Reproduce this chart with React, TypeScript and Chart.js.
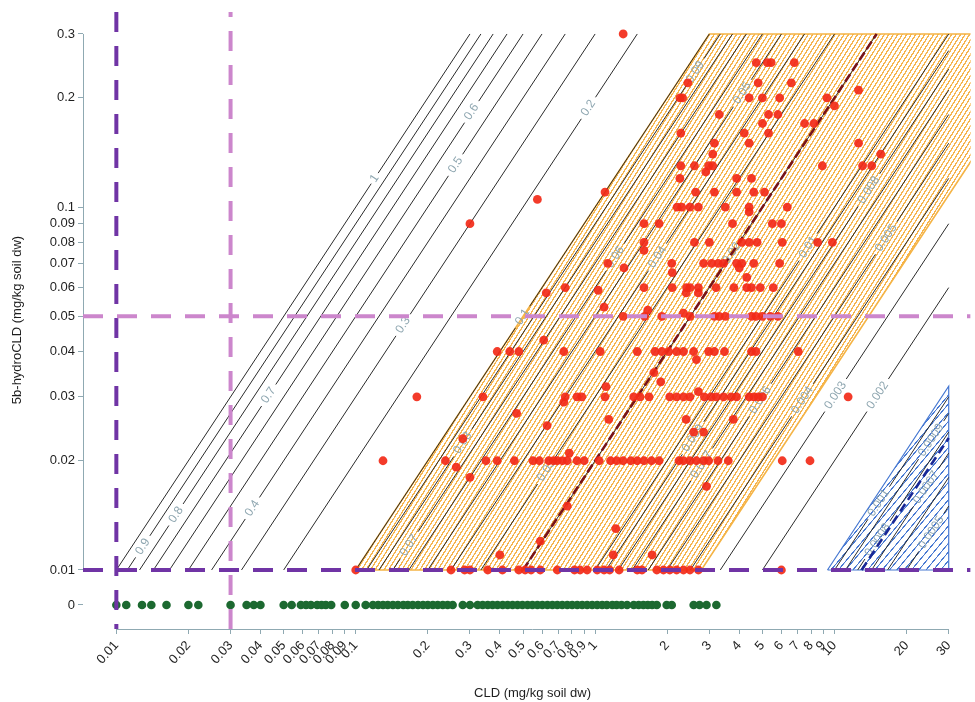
import React, { useEffect, useRef } from "react";
import { Chart, registerables } from "chart.js";

Chart.register(...registerables);

const FONT = "'Liberation Sans', Arial, Helvetica, sans-serif";

// ---------- axis ticks ----------
const X_TICKS = [0.01, 0.02, 0.03, 0.04, 0.05, 0.06, 0.07, 0.08, 0.09, 0.1, 0.2, 0.3, 0.4, 0.5, 0.6, 0.7, 0.8, 0.9, 1, 2, 3, 4, 5, 6, 7, 8, 9, 10, 20, 30];
const X_TICK_LABELS = ["0.01", "0.02", "0.03", "0.04", "0.05", "0.06", "0.07", "0.08", "0.09", "0.1", "0.2", "0.3", "0.4", "0.5", "0.6", "0.7", "0.8", "0.9", "1", "2", "3", "4", "5", "6", "7", "8", "9", "10", "20", "30"];
const Y_TICKS = [0.01, 0.02, 0.03, 0.04, 0.05, 0.06, 0.07, 0.08, 0.09, 0.1, 0.2, 0.3];
const Y_TICK_LABELS = ["0.01", "0.02", "0.03", "0.04", "0.05", "0.06", "0.07", "0.08", "0.09", "0.1", "0.2", "0.3"];
const ZERO_LABEL = "0";
const X_TITLE = "CLD (mg/kg soil dw)";
const Y_TITLE = "5b-hydroCLD (mg/kg soil dw)";

// ---------- data window ----------
const X_DATA_MIN = 0.01;
const X_DATA_MAX = 30;
const Y_DATA_MIN = 0.01;
const Y_DATA_MAX = 0.3;

// ---------- ratio contours (5b-hydroCLD / CLD) ----------
const CONTOUR_LEVELS = [
  1, 0.9, 0.8, 0.7, 0.6, 0.5, 0.4, 0.3, 0.2, 0.1,
  0.09, 0.08, 0.07, 0.06, 0.05, 0.04, 0.03, 0.02, 0.01,
  0.009, 0.008, 0.007, 0.006, 0.005, 0.004, 0.003, 0.002, 0.001,
  0.0009, 0.0008, 0.0007, 0.0006, 0.0005,
];
// [level, text, y-value where the label sits]
const CONTOUR_LABELS: [number, string, number][] = [
  [1, "1", 0.12], [0.9, "0.9", 0.0116], [0.8, "0.8", 0.0142], [0.7, "0.7", 0.0303],
  [0.6, "0.6", 0.183], [0.5, "0.5", 0.1306], [0.4, "0.4", 0.0148], [0.3, "0.3", 0.0473],
  [0.2, "0.2", 0.1875], [0.1, "0.1", 0.0498], [0.09, "0.09", 0.2355], [0.08, "0.08", 0.0224],
  [0.07, "0.07", 0.0117], [0.06, "0.06", 0.0728], [0.05, "0.05", 0.206], [0.04, "0.04", 0.0728],
  [0.03, "0.03", 0.0188], [0.02, "0.02", 0.0746], [0.01, "0.01", 0.0776], [0.009, "0.009", 0.0231],
  [0.008, "0.008", 0.1114], [0.007, "0.007", 0.0195], [0.006, "0.006", 0.0294], [0.005, "0.005", 0.0822],
  [0.004, "0.004", 0.0294], [0.003, "0.003", 0.0303], [0.002, "0.002", 0.0303], [0.001, "0.001", 0.0153],
  [0.0009, "0.0009", 0.0228], [0.0008, "0.0008", 0.0121], [0.0007, "0.0007", 0.0169], [0.0005, "0.0005", 0.0127],
];

// ---------- shaded zones & reference lines ----------
const ORANGE_RATIO_HIGH = 0.1;
const ORANGE_RATIO_LOW = 0.0036;
const BLUE_RATIO = 0.00107;
const RED_DASH_RATIO = 0.02;
const BLUE_DASH_RATIO = 0.00077;
const REF_X_DARK = 0.01;
const REF_X_LIGHT = 0.03;
const REF_Y_DARK = 0.01;
const REF_Y_LIGHT = 0.05;

// ---------- observations ----------
// [5b-hydroCLD value, CLD values]
const RED_ROWS: [number, number[]][] = [
  [0.3, [1.31]],
  [0.25, [4.71, 5.24, 5.44, 6.79]],
  [0.22, [2.44, 4.8, 6.6]],
  [0.21, [12.6]],
  [0.2, [2.26, 2.32, 4.4, 5.0, 5.9, 9.3]],
  [0.19, [10.0]],
  [0.18, [3.3, 5.3, 5.8]],
  [0.17, [5.0, 7.5, 8.2]],
  [0.16, [2.28, 4.2, 5.3]],
  [0.15, [3.15, 4.4, 12.6]],
  [0.14, [3.1, 15.6]],
  [0.13, [2.28, 2.6, 2.98, 3.1, 8.9, 13.1, 14.3]],
  [0.125, [2.9]],
  [0.12, [2.26, 3.9, 4.5]],
  [0.11, [1.1, 2.63, 3.15, 3.9, 4.6, 5.1]],
  [0.105, [0.574]],
  [0.1, [2.2, 2.3, 2.49, 2.7, 3.5, 4.4, 6.35]],
  [0.097, [4.4]],
  [0.09, [0.3, 1.6, 1.85, 3.75, 5.5, 6.0]],
  [0.08, [1.6, 2.6, 3.0, 4.1, 4.4, 4.75, 6.05, 8.5, 9.8]],
  [0.076, [1.6]],
  [0.07, [1.13, 2.09, 2.84, 3.07, 3.27, 3.44, 3.9, 4.1, 4.6, 5.9]],
  [0.068, [1.32, 4.0]],
  [0.066, [2.1]],
  [0.064, [4.3]],
  [0.06, [0.75, 1.6, 2.1, 2.41, 2.49, 2.7, 3.2, 3.8, 4.3, 4.5, 4.9, 5.55]],
  [0.059, [1.03]],
  [0.058, [0.625, 2.4, 2.7]],
  [0.053, [1.09]],
  [0.052, [1.66]],
  [0.051, [2.34]],
  [0.05, [1.31, 1.61, 1.9, 2.49, 3.15, 3.3, 3.5, 4.5, 4.7, 5.0, 5.4, 5.8]],
  [0.043, [0.61]],
  [0.04, [0.39, 0.44, 0.48, 0.74, 1.05, 1.5, 1.78, 1.9, 2.03, 2.19, 2.34, 2.58, 2.98, 3.15, 3.47, 4.5, 4.7, 7.06]],
  [0.038, [2.65]],
  [0.035, [1.76]],
  [0.033, [1.88]],
  [0.032, [1.11]],
  [0.03, [0.18, 0.34, 0.75, 0.84, 0.88, 1.1, 1.45, 1.54, 1.68, 2.05, 2.19, 2.34, 2.49, 2.86, 3.05, 3.21, 3.44, 3.7, 3.9, 4.4, 4.6, 4.8, 5.0, 11.4]],
  [0.031, [2.7]],
  [0.029, [0.74]],
  [0.027, [0.47]],
  [0.026, [1.14, 2.4, 3.78]],
  [0.025, [0.63]],
  [0.024, [2.58, 2.84]],
  [0.023, [0.28]],
  [0.021, [0.78]],
  [0.02, [0.13, 0.237, 0.35, 0.39, 0.46, 0.55, 0.585, 0.64, 0.67, 0.695, 0.73, 0.765, 0.84, 0.9, 1.04, 1.16, 1.23, 1.31, 1.41, 1.5, 1.6, 1.72, 1.85, 2.24, 2.34, 2.49, 2.65, 2.84, 2.98, 3.26, 3.6, 6.05, 7.9]],
  [0.0192, [0.263]],
  [0.018, [0.3]],
  [0.017, [2.92]],
  [0.015, [0.765]],
  [0.013, [1.22]],
  [0.012, [0.59]],
  [0.011, [0.4, 1.19, 1.73]],
  [0.01, [0.1, 0.25, 0.285, 0.3, 0.356, 0.41, 0.48, 0.51, 0.54, 0.59, 0.695, 0.82, 0.865, 0.926, 1.02, 1.09, 1.15, 1.26, 1.5, 1.57, 1.81, 1.93, 2.05, 2.19, 2.34, 2.49, 2.7, 6.0]],
];

// CLD values of samples with 5b-hydroCLD = 0
const GREEN_X = [
  0.01, 0.011, 0.0128, 0.014, 0.0162, 0.02, 0.022, 0.03, 0.035, 0.0375, 0.04, 0.05, 0.054, 0.059,
  0.062, 0.065, 0.069, 0.072, 0.075, 0.079, 0.09, 0.1, 0.11, 0.118, 0.124, 0.13, 0.136, 0.143, 0.15,
  0.158, 0.165, 0.173, 0.182, 0.191, 0.2, 0.21, 0.22, 0.231, 0.242, 0.254, 0.28, 0.3, 0.323, 0.339,
  0.356, 0.373, 0.391, 0.411, 0.431, 0.452, 0.474, 0.497, 0.522, 0.547, 0.574, 0.602, 0.632, 0.663,
  0.695, 0.729, 0.765, 0.802, 0.842, 0.883, 0.926, 0.972, 1.02, 1.07, 1.12, 1.18, 1.23, 1.29, 1.36,
  1.45, 1.52, 1.59, 1.66, 1.73, 1.81, 1.99, 2.09, 2.58, 2.73, 2.92, 3.21,
];

// ---------- layout / style ----------
const X_MIN = 0.007256;
const X_MAX = 37.03;
const Y_MIN = -2.1626;
const Y_MAX = -0.4623;
const ZERO_POS = -2.0964;
const AXIS_COLOR = "#8fa9b2";
const TEXT_COLOR = "#1e1e1e";
const LABEL_COLOR = "#8ea6b0";
const L = Math.log10;

export default function App() {
  const ref = useRef<HTMLCanvasElement>(null);

  useEffect(() => {
    const canvas = ref.current!;
    const ctx = canvas.getContext("2d")!;

    const hatch = (color: string, spacing: number, width: number, angle: number) => {
      const t = document.createElement("canvas");
      t.width = 32;
      t.height = 32;
      const g = t.getContext("2d")!;
      g.fillStyle = color;
      g.fillRect(0, 0, 32, (32 * width) / spacing);
      const p = ctx.createPattern(t, "repeat")!;
      p.setTransform(new DOMMatrix().rotate(-angle).scale(spacing / 32));
      return p;
    };

    const datasets: any[] = [];

    // orange zone
    datasets.push({
      type: "line",
      label: "orange-region",
      data: [
        { x: Y_DATA_MIN / ORANGE_RATIO_HIGH, y: L(Y_DATA_MIN) },
        { x: Y_DATA_MAX / ORANGE_RATIO_HIGH, y: L(Y_DATA_MAX) },
        { x: Y_DATA_MAX / ORANGE_RATIO_LOW, y: L(Y_DATA_MAX) },
        { x: Y_DATA_MIN / ORANGE_RATIO_LOW, y: L(Y_DATA_MIN) },
        { x: Y_DATA_MIN / ORANGE_RATIO_HIGH, y: L(Y_DATA_MIN) },
      ],
      fill: "shape",
      backgroundColor: hatch("rgba(245,176,66,0.95)", 3.8, 1.3, 58),
      borderColor: "rgb(245,180,70)",
      borderWidth: 1.6,
      pointRadius: 0,
      tension: 0,
      order: 10,
    });

    // blue zone
    datasets.push({
      type: "line",
      label: "blue-region",
      data: [
        { x: Y_DATA_MIN / BLUE_RATIO, y: L(Y_DATA_MIN) },
        { x: X_DATA_MAX, y: L(Y_DATA_MIN) },
        { x: X_DATA_MAX, y: L(X_DATA_MAX * BLUE_RATIO) },
        { x: Y_DATA_MIN / BLUE_RATIO, y: L(Y_DATA_MIN) },
      ],
      fill: "shape",
      backgroundColor: hatch("rgb(70,120,210)", 5.6, 1.1, 50),
      borderColor: "rgb(70,120,210)",
      borderWidth: 1.2,
      pointRadius: 0,
      tension: 0,
      order: 9,
    });

    // contour lines (with gaps at labels)
    const PX_PER_DEC_ALONG = 435;
    for (const k of CONTOUR_LEVELS) {
      const yTop = Math.min(Y_DATA_MAX, X_DATA_MAX * k);
      const start = { x: Y_DATA_MIN / k, y: L(Y_DATA_MIN) };
      const end = { x: yTop / k, y: L(yTop) };
      const lab = CONTOUR_LABELS.find((l) => l[0] === k);
      let segs: any[][];
      if (lab) {
        const half = (lab[1].length * 3.3 + 3) / PX_PER_DEC_ALONG;
        const yl = L(lab[2]);
        segs = [
          [start, { x: Math.pow(10, yl - half) / k, y: yl - half }],
          [{ x: Math.pow(10, yl + half) / k, y: yl + half }, end],
        ];
      } else {
        segs = [[start, end]];
      }
      for (const s of segs) {
        datasets.push({
          type: "line",
          label: "contour",
          data: s,
          borderColor: "#2b2b2b",
          borderWidth: 1,
          pointRadius: 0,
          fill: false,
          tension: 0,
          order: 6,
        });
      }
    }

    // dashed ratio lines
    datasets.push({
      type: "line",
      label: "ratio-0.02",
      data: [
        { x: Y_DATA_MIN / RED_DASH_RATIO, y: L(Y_DATA_MIN) },
        { x: Y_DATA_MAX / RED_DASH_RATIO, y: L(Y_DATA_MAX) },
      ],
      borderColor: "rgb(120,20,25)",
      borderWidth: 2.6,
      borderDash: [9, 4],
      pointRadius: 0,
      fill: false,
      order: 5,
    });
    datasets.push({
      type: "line",
      label: "ratio-blue",
      data: [
        { x: Y_DATA_MIN / BLUE_DASH_RATIO, y: L(Y_DATA_MIN) },
        { x: X_DATA_MAX, y: L(X_DATA_MAX * BLUE_DASH_RATIO) },
      ],
      borderColor: "rgb(25,40,150)",
      borderWidth: 2.6,
      borderDash: [9, 5],
      pointRadius: 0,
      fill: false,
      order: 5,
    });

    // observations
    const redData: { x: number; y: number }[] = [];
    for (const [yv, xs] of RED_ROWS) for (const xv of xs) redData.push({ x: xv, y: L(yv) });
    datasets.push({
      type: "scatter",
      label: "detected",
      data: redData,
      pointRadius: 4.4,
      pointBackgroundColor: "rgba(242,42,24,0.92)",
      pointBorderWidth: 0,
      order: 3,
    });
    datasets.push({
      type: "scatter",
      label: "zero",
      data: GREEN_X.map((x) => ({ x, y: ZERO_POS })),
      pointRadius: 4.3,
      pointBackgroundColor: "rgb(28,105,48)",
      pointBorderWidth: 0,
      order: 3,
    });

    // reference dashed lines
    const refLine = (data: any[], color: string) => ({
      type: "line",
      label: "ref",
      data,
      borderColor: color,
      borderWidth: 4,
      borderDash: [20, 14],
      pointRadius: 0,
      fill: false,
      order: 1,
    });
    datasets.push(refLine([{ x: REF_X_LIGHT, y: Y_MIN }, { x: REF_X_LIGHT, y: Y_MAX }], "rgb(204,134,204)"));
    datasets.push(refLine([{ x: X_MIN, y: L(REF_Y_LIGHT) }, { x: X_MAX, y: L(REF_Y_LIGHT) }], "rgb(204,134,204)"));
    datasets.push(refLine([{ x: REF_X_DARK, y: Y_MAX }, { x: REF_X_DARK, y: Y_MIN }], "rgb(112,52,165)"));
    datasets.push(refLine([{ x: X_MIN, y: L(REF_Y_DARK) }, { x: X_MAX, y: L(REF_Y_DARK) }], "rgb(112,52,165)"));

    const decor = {
      id: "decor",
      beforeDatasetsDraw(chart: any) {
        const c = chart.ctx;
        const xs = chart.scales.x;
        const ys = chart.scales.y;
        c.save();
        c.strokeStyle = AXIS_COLOR;
        c.lineWidth = 1;
        c.beginPath();
        const ax = Math.round(chart.chartArea.left) + 0.5;
        c.moveTo(ax, ys.getPixelForValue(L(Y_DATA_MAX)));
        c.lineTo(ax, ys.getPixelForValue(L(Y_DATA_MIN)));
        const ay = Math.round(chart.chartArea.bottom) + 0.5;
        c.moveTo(xs.getPixelForValue(X_DATA_MIN), ay);
        c.lineTo(xs.getPixelForValue(X_DATA_MAX), ay);
        c.stroke();
        c.restore();
      },
      afterDatasetDraw(chart: any, args: any) {
        if (chart.data.datasets[args.index].label !== "blue-region") return;
        const c = chart.ctx;
        const xs = chart.scales.x;
        const ys = chart.scales.y;
        const ang = Math.atan2(
          ys.getPixelForValue(-2) - ys.getPixelForValue(-1),
          xs.getPixelForValue(10) - xs.getPixelForValue(1)
        );
        const a = chart.chartArea;
        c.save();
        c.beginPath();
        c.rect(a.left, a.top, a.right - a.left, a.bottom - a.top);
        c.clip();
        c.font = `12px ${FONT}`;
        c.fillStyle = LABEL_COLOR;
        c.textAlign = "center";
        c.textBaseline = "middle";
        for (const [k, text, yv] of CONTOUR_LABELS) {
          const px = xs.getPixelForValue(yv / k);
          const py = ys.getPixelForValue(L(yv));
          c.save();
          c.translate(px, py);
          c.rotate(-ang);
          c.fillText(text, 0, 0);
          c.restore();
        }
        c.restore();
      },
      afterDraw(chart: any) {
        const c = chart.ctx;
        const xs = chart.scales.x;
        const ys = chart.scales.y;
        c.save();
        c.font = `13px ${FONT}`;
        c.fillStyle = TEXT_COLOR;
        c.textAlign = "center";
        c.textBaseline = "middle";
        c.fillText(X_TITLE, (xs.getPixelForValue(X_DATA_MIN) + xs.getPixelForValue(X_DATA_MAX)) / 2, 693);
        c.translate(17, (ys.getPixelForValue(L(Y_DATA_MIN)) + ys.getPixelForValue(L(Y_DATA_MAX))) / 2 + 18);
        c.rotate(-Math.PI / 2);
        c.fillText(Y_TITLE, 0, 0);
        c.restore();
      },
    };

    const chart = new Chart(canvas, {
      type: "scatter",
      data: { datasets },
      options: {
        responsive: false,
        animation: false,
        events: [],
        layout: { padding: { top: 12, left: 0, right: 0, bottom: 0 } },
        plugins: { legend: { display: false }, tooltip: { enabled: false } },
        scales: {
          x: {
            type: "logarithmic",
            min: X_MIN,
            max: X_MAX,
            afterBuildTicks: (s: any) => {
              s.ticks = X_TICKS.map((v) => ({ value: v }));
            },
            afterFit: (s: any) => {
              s.height = 73;
            },
            grid: { drawOnChartArea: false, drawTicks: true, tickLength: 5, color: AXIS_COLOR },
            border: { display: false },
            ticks: {
              autoSkip: false,
              maxRotation: 48,
              minRotation: 48,
              padding: 4,
              color: TEXT_COLOR,
              font: { family: FONT, size: 13 },
              callback: (_v: any, i: number) => X_TICK_LABELS[i],
            },
          },
          y: {
            type: "linear",
            min: Y_MIN,
            max: Y_MAX,
            afterBuildTicks: (s: any) => {
              s.ticks = [...Y_TICKS.map((v) => ({ value: L(v) })), { value: ZERO_POS }];
            },
            afterFit: (s: any) => {
              s.width = 83;
            },
            grid: { drawOnChartArea: false, drawTicks: true, tickLength: 5, color: AXIS_COLOR },
            border: { display: false },
            ticks: {
              autoSkip: false,
              padding: 3,
              color: TEXT_COLOR,
              font: { family: FONT, size: 13 },
              callback: (_v: any, i: number) => (i < Y_TICK_LABELS.length ? Y_TICK_LABELS[i] : ZERO_LABEL),
            },
          },
        },
      } as any,
      plugins: [decor],
    });

    return () => chart.destroy();
  }, []);

  return (
    <div style={{ position: "absolute", left: 0, top: 0, width: 975, height: 702, background: "#fff" }}>
      <canvas ref={ref} width={975} height={702} style={{ display: "block", width: "975px", height: "702px" }} />
    </div>
  );
}
